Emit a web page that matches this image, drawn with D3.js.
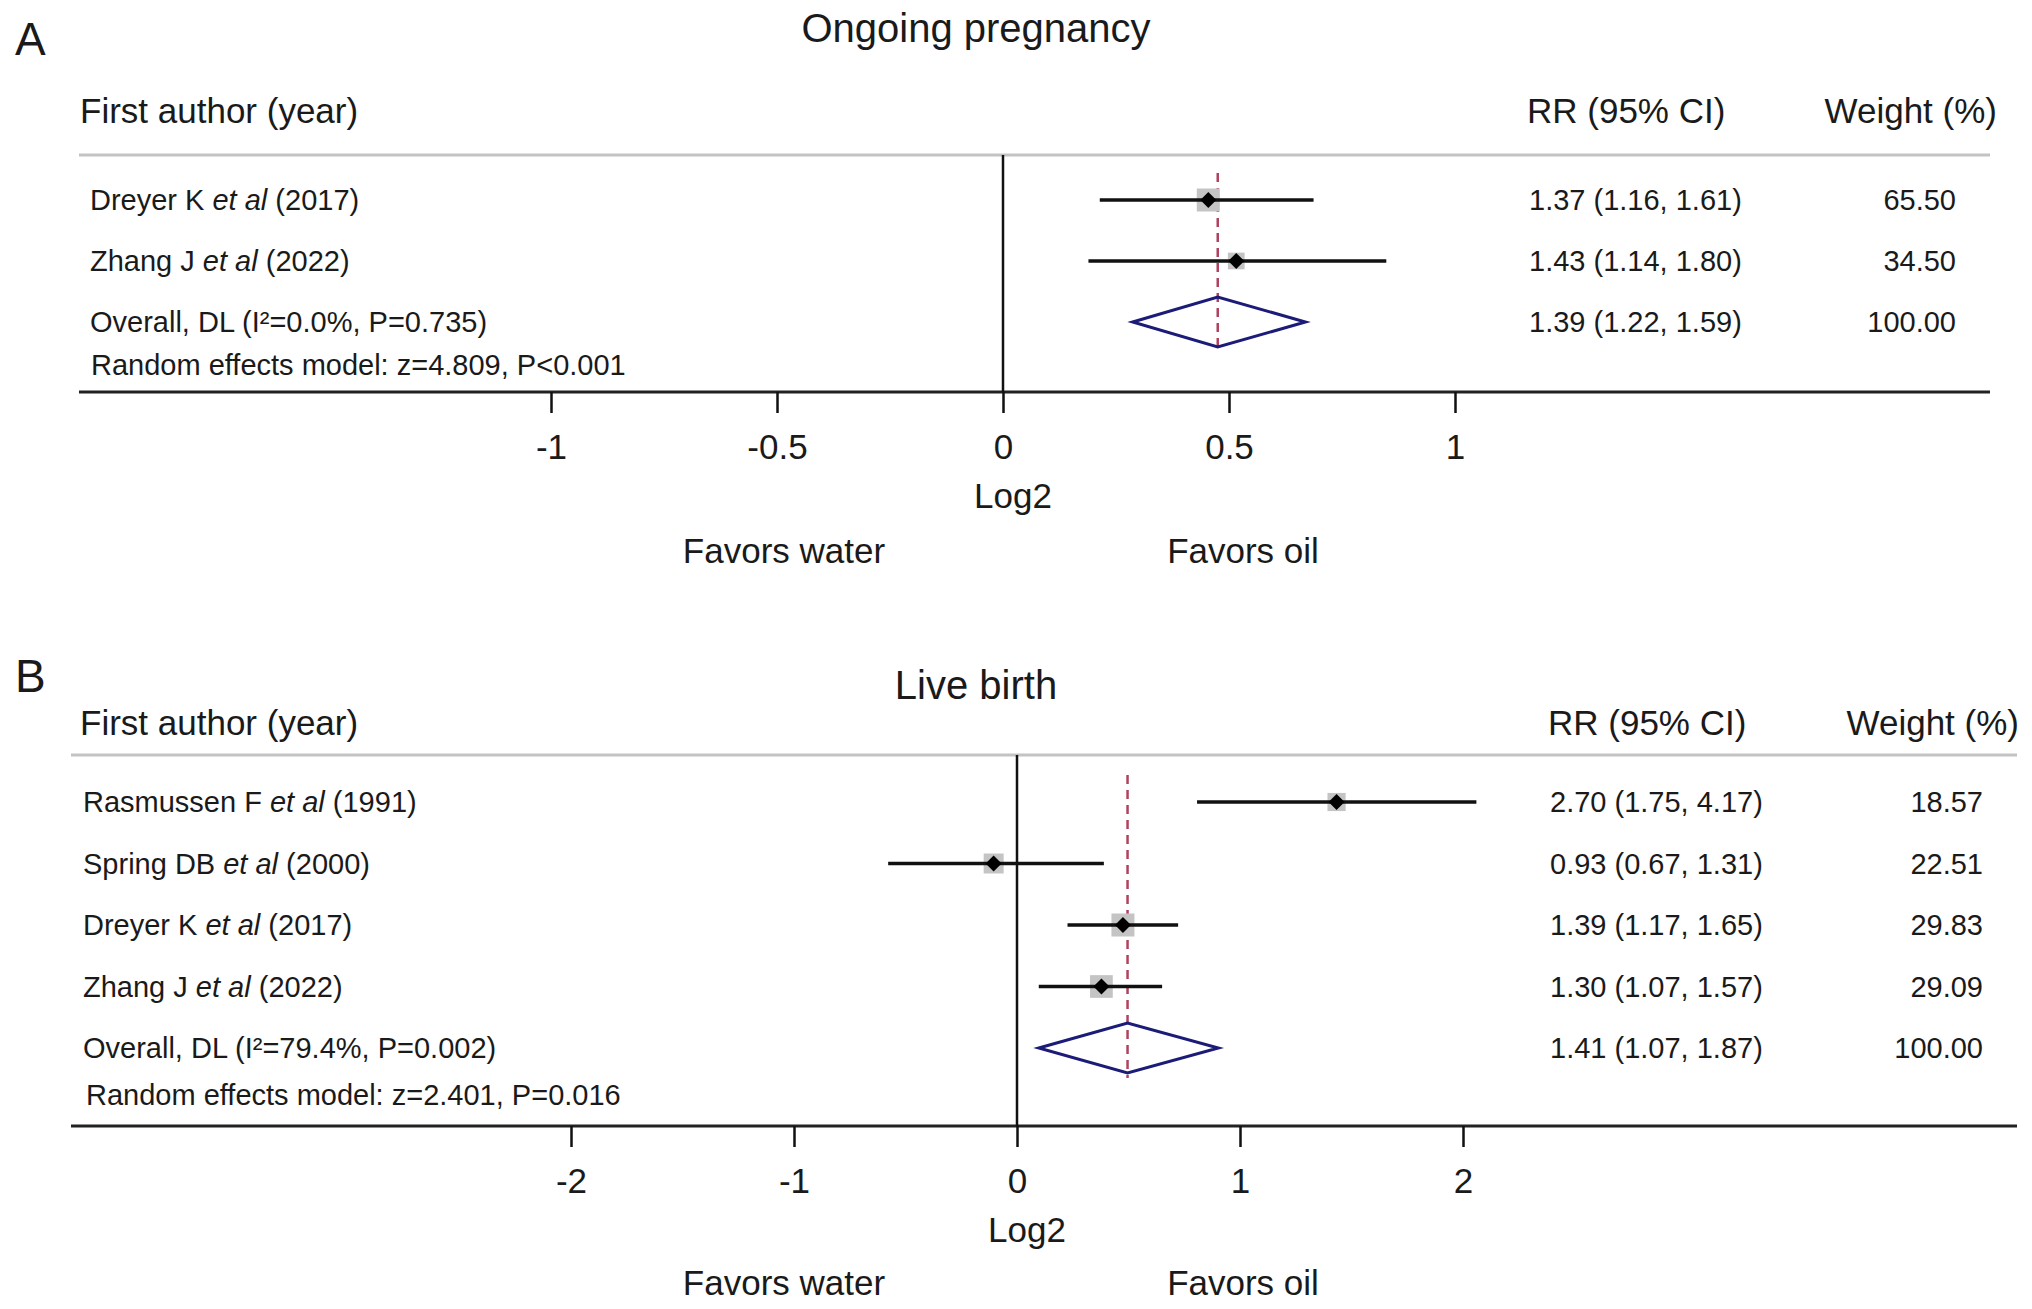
<!DOCTYPE html>
<html>
<head>
<meta charset="utf-8">
<script src="https://cdn.jsdelivr.net/npm/d3@7"></script>
<style>
  body { margin: 0; background: #fff; }
  text { font-family: "Liberation Sans", Arial, Helvetica, sans-serif; fill: #1a1a1a; }
</style>
</head>
<body>
<div id="forest"></div>
<script>
// ---- data: panel A (ongoing pregnancy) ----
var authorsA = ["Dreyer K", "Zhang J"];
var yearsA = [2017, 2022];
var rrA = [1.37, 1.43];
var lowA = [1.16, 1.14];
var highA = [1.61, 1.80];
var weightA = [65.50, 34.50];
var overallA = [1.39, 1.22, 1.59];
var hetA = "Overall, DL (I\u00b2=0.0%, P=0.735)";
var testA = "Random effects model: z=4.809, P<0.001";
var ticksA = [-1, -0.5, 0, 0.5, 1];

// ---- data: panel B (live birth) ----
var authorsB = ["Rasmussen F", "Spring DB", "Dreyer K", "Zhang J"];
var yearsB = [1991, 2000, 2017, 2022];
var rrB = [2.70, 0.93, 1.39, 1.30];
var lowB = [1.75, 0.67, 1.17, 1.07];
var highB = [4.17, 1.31, 1.65, 1.57];
var weightB = [18.57, 22.51, 29.83, 29.09];
var overallB = [1.41, 1.07, 1.87];
var hetB = "Overall, DL (I\u00b2=79.4%, P=0.002)";
var testB = "Random effects model: z=2.401, P=0.016";
var ticksB = [-2, -1, 0, 1, 2];

// svg area
var svgWidth = 2032;
var svgHeight = 1309;

var svg = d3.select("#forest")
    .append("svg")
    .attr("width", svgWidth)
    .attr("height", svgHeight);

// layout of each panel (pixel positions only)
var panels = [
  {
    letter: "A", title: "Ongoing pregnancy",
    authors: authorsA, years: yearsA, rr: rrA, low: lowA, high: highA, weight: weightA,
    overall: overallA, het: hetA, test: testA, ticks: ticksA,
    letterY: 55, titleY: 42, headY: 123, topLine: 155, bottomLine: 392,
    rowTop: 200, rowBottom: 322, testY: 375,
    lineX0: 79, lineX1: 1990, labelX: 90, testX: 91,
    rrX: 1529, weightX: 1956, weightHeadX: 1997,
    xRange: [551, 1455],
    log2Y: 508, favorsY: 563
  },
  {
    letter: "B", title: "Live birth",
    authors: authorsB, years: yearsB, rr: rrB, low: lowB, high: highB, weight: weightB,
    overall: overallB, het: hetB, test: testB, ticks: ticksB,
    letterY: 692, titleY: 699, headY: 735, topLine: 755, bottomLine: 1126,
    rowTop: 802, rowBottom: 1048, testY: 1105,
    lineX0: 71, lineX1: 2017, labelX: 83, testX: 86,
    rrX: 1550, weightX: 1983, weightHeadX: 2019,
    xRange: [571, 1463],
    log2Y: 1242, favorsY: 1295
  }
];

var rowFont = 29;
var headFont = 35;

function fmt(v) { return v.toFixed(2); }

panels.forEach(function(p) {
  var g = svg.append("g");

  // x scale on log2(RR)
  var x = d3.scaleLinear()
      .domain([p.ticks[0], p.ticks[p.ticks.length - 1]])
      .range(p.xRange);

  // rows: studies then the pooled estimate
  var rowKeys = p.authors.concat(["Overall"]);
  var y = d3.scalePoint()
      .domain(rowKeys)
      .range([p.rowTop, p.rowBottom]);

  // box side by weight (area proportional)
  var boxSize = d3.scaleSqrt()
      .domain([0, d3.max(p.weight)])
      .range([0, 23]);

  var studies = p.authors.map(function(a, i) {
    return { author: a, year: p.years[i], rr: p.rr[i], low: p.low[i], high: p.high[i], weight: p.weight[i] };
  });

  // panel letter and title
  g.append("text")
      .attr("x", 15).attr("y", p.letterY)
      .style("font-size", "46px")
      .text(p.letter);

  g.append("text")
      .attr("x", 976).attr("y", p.titleY)
      .style("font-size", "40px")
      .style("text-anchor", "middle")
      .text(p.title);

  // column headers
  g.append("text")
      .attr("x", 80).attr("y", p.headY)
      .style("font-size", headFont + "px")
      .text("First author (year)");
  g.append("text")
      .attr("x", p.rrX - 2).attr("y", p.headY)
      .style("font-size", headFont + "px")
      .text("RR (95% CI)");
  g.append("text")
      .attr("x", p.weightHeadX).attr("y", p.headY)
      .style("font-size", headFont + "px")
      .style("text-anchor", "end")
      .text("Weight (%)");

  // gray rule under header, black rule at bottom
  g.append("line")
      .attr("x1", p.lineX0).attr("x2", p.lineX1)
      .attr("y1", p.topLine).attr("y2", p.topLine)
      .attr("stroke", "#c3c3c3").attr("stroke-width", 3);
  g.append("line")
      .attr("x1", p.lineX0).attr("x2", p.lineX1)
      .attr("y1", p.bottomLine).attr("y2", p.bottomLine)
      .attr("stroke", "#222").attr("stroke-width", 3);

  // no-effect line
  g.append("line")
      .attr("x1", x(0)).attr("x2", x(0))
      .attr("y1", p.topLine).attr("y2", p.bottomLine)
      .attr("stroke", "#111").attr("stroke-width", 2.5);

  // pooled estimate dashed line
  var pooled = Math.log2(p.overall[0]);
  g.append("line")
      .attr("x1", x(pooled)).attr("x2", x(pooled))
      .attr("y1", p.rowTop - 27).attr("y2", p.rowBottom + 30)
      .attr("stroke", "#b0425e").attr("stroke-width", 2.5)
      .attr("stroke-dasharray", "9,6");

  // study rows
  var rows = g.selectAll(".study")
      .data(studies)
      .enter()
      .append("g")
      .attr("class", "study");

  var label = rows.append("text")
      .attr("x", p.labelX)
      .attr("y", function(d) { return y(d.author) + 10; })
      .style("font-size", rowFont + "px");
  label.append("tspan").text(function(d) { return d.author + " "; });
  label.append("tspan").style("font-style", "italic").text("et al");
  label.append("tspan").text(function(d) { return " (" + d.year + ")"; });

  rows.append("rect")
      .attr("x", function(d) { return x(Math.log2(d.rr)) - boxSize(d.weight) / 2; })
      .attr("y", function(d) { return y(d.author) - boxSize(d.weight) / 2; })
      .attr("width", function(d) { return boxSize(d.weight); })
      .attr("height", function(d) { return boxSize(d.weight); })
      .attr("fill", "#c4c4c4");

  rows.append("line")
      .attr("x1", function(d) { return x(Math.log2(d.low)); })
      .attr("x2", function(d) { return x(Math.log2(d.high)); })
      .attr("y1", function(d) { return y(d.author); })
      .attr("y2", function(d) { return y(d.author); })
      .attr("stroke", "#111").attr("stroke-width", 3.5);

  rows.append("path")
      .attr("d", function(d) {
        var cx = x(Math.log2(d.rr)), cy = y(d.author);
        return "M" + (cx - 8) + "," + cy + "L" + cx + "," + (cy - 8) +
               "L" + (cx + 8) + "," + cy + "L" + cx + "," + (cy + 8) + "Z";
      })
      .attr("fill", "#000");

  rows.append("text")
      .attr("x", p.rrX)
      .attr("y", function(d) { return y(d.author) + 10; })
      .style("font-size", rowFont + "px")
      .text(function(d) { return fmt(d.rr) + " (" + fmt(d.low) + ", " + fmt(d.high) + ")"; });

  rows.append("text")
      .attr("x", p.weightX)
      .attr("y", function(d) { return y(d.author) + 10; })
      .style("font-size", rowFont + "px")
      .style("text-anchor", "end")
      .text(function(d) { return fmt(d.weight); });

  // pooled row
  var oy = y("Overall");
  var xl = x(Math.log2(p.overall[1])), xc = x(pooled), xr = x(Math.log2(p.overall[2]));
  g.append("path")
      .attr("d", "M" + xl + "," + oy + "L" + xc + "," + (oy - 25) + "L" + xr + "," + oy +
                 "L" + xc + "," + (oy + 25) + "Z")
      .attr("fill", "none")
      .attr("stroke", "#1c1c78")
      .attr("stroke-width", 3);

  g.append("text")
      .attr("x", p.labelX).attr("y", oy + 10)
      .style("font-size", rowFont + "px")
      .text(p.het);
  g.append("text")
      .attr("x", p.rrX).attr("y", oy + 10)
      .style("font-size", rowFont + "px")
      .text(fmt(p.overall[0]) + " (" + fmt(p.overall[1]) + ", " + fmt(p.overall[2]) + ")");
  g.append("text")
      .attr("x", p.weightX).attr("y", oy + 10)
      .style("font-size", rowFont + "px")
      .style("text-anchor", "end")
      .text(fmt(100));
  g.append("text")
      .attr("x", p.testX).attr("y", p.testY)
      .style("font-size", rowFont + "px")
      .text(p.test);

  // x axis
  var axis = d3.axisBottom(x)
      .tickValues(p.ticks)
      .tickSize(21)
      .tickPadding(21)
      .tickFormat(function(d) { return String(d); });

  var ax = g.append("g")
      .attr("transform", "translate(0," + p.bottomLine + ")")
      .call(axis);
  ax.select(".domain").remove();
  ax.selectAll(".tick line").attr("stroke", "#111").attr("stroke-width", 2.5);
  ax.selectAll(".tick text")
      .style("font-size", headFont + "px")
      .style("font-family", "'Liberation Sans', Arial, sans-serif")
      .attr("fill", "#1a1a1a");

  // axis titles
  g.append("text")
      .attr("x", x(0) + 10).attr("y", p.log2Y)
      .style("font-size", headFont + "px")
      .style("text-anchor", "middle")
      .text("Log2");
  g.append("text")
      .attr("x", 784).attr("y", p.favorsY)
      .style("font-size", headFont + "px")
      .style("text-anchor", "middle")
      .text("Favors water");
  g.append("text")
      .attr("x", 1243).attr("y", p.favorsY)
      .style("font-size", headFont + "px")
      .style("text-anchor", "middle")
      .text("Favors oil");
});
</script>
</body>
</html>
